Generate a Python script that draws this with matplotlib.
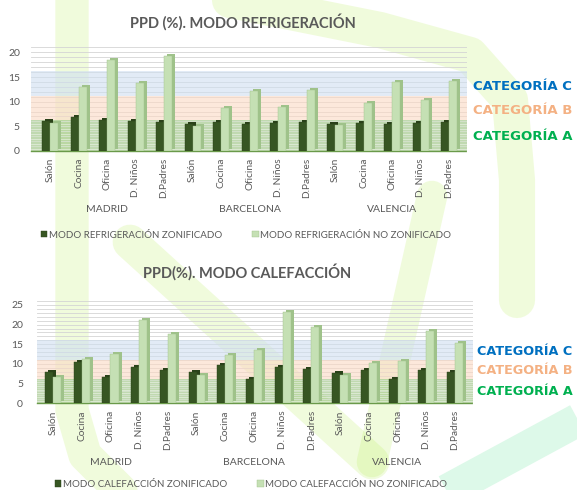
import matplotlib
matplotlib.use('Agg')
import matplotlib.pyplot as plt
import matplotlib.transforms as mtransforms
import numpy as np

# ---------------- data ----------------
cities = ['MADRID', 'BARCELONA', 'VALENCIA']
rooms = ['Salón', 'Cocina', 'Oficina', 'D. Niños', 'D.Padres']
categories = rooms * 3

refr_zon = [6.0, 6.8, 6.3, 6.1, 5.8, 5.4, 5.8, 5.5, 5.6, 5.9, 5.4, 5.6, 5.5, 5.6, 5.9]
refr_nozon = [5.7, 13.0, 18.5, 13.8, 19.3, 5.1, 8.8, 12.2, 9.0, 12.3, 5.2, 9.7, 14.0, 10.3, 14.3]
cal_zon = [7.9, 10.5, 6.6, 9.2, 8.5, 8.0, 9.7, 6.3, 9.3, 8.7, 7.7, 8.5, 6.1, 8.4, 8.0]
cal_nozon = [6.6, 11.3, 12.4, 21.1, 17.7, 7.3, 12.3, 13.6, 23.2, 19.5, 7.1, 10.3, 10.8, 18.4, 15.3]

band_limits = [0, 6.2, 11.1, 16.2]          # categoría A, B, C
band_names = ['CATEGORÍA A', 'CATEGORÍA B', 'CATEGORÍA C']

W, H = 577, 490
fig = plt.figure(figsize=(W / 100, H / 100), dpi=100)
fig.patch.set_facecolor('white')

# ---------------- decorative background (logo strokes) ----------------
bg = fig.add_axes([0, 0, 1, 1], zorder=0)
bg.set_xlim(0, W)
bg.set_ylim(H, 0)
bg.axis('off')
lime = '#b5ee50'
strokes = [
    ([72, 72, 85, 130], [-20, 410, 455, 500], 24),        # left vertical stroke
    ([130, 372], [242, 462], 25),                          # V left arm
    ([432, 372], [196, 462], 22),                          # V right arm
    ([230, 380, 470, 510, 517, 517], [0, 30, 55, 100, 180, 300], 26),  # arch
]
for xs, ys, lw in strokes:
    bg.plot(xs, ys, color=lime, alpha=0.2, lw=lw, solid_capstyle='round',
            solid_joinstyle='round')
bg.plot([430, 600], [500, 408], color='#9eeec0', alpha=0.35, lw=24,
        solid_capstyle='butt')

GREY = '#595959'
DARK, DARK_SIDE = '#375623', '#2a4219'
LIGHT, LIGHT_SIDE = '#c5e0b4', '#9fc28a'


def draw_chart(rect, zon, nozon, ymax, yticks, xlim, ypad, title, title_xy,
               leg_labels, leg_xy, cat_x, cat_ys, cat_size):
    ax = fig.add_axes(rect, zorder=1)
    ax.patch.set_alpha(0)
    x = np.arange(len(categories))
    # gridlines
    for v in range(0, int(ymax) + 1):
        ax.axhline(v, color='#d4d4d4', lw=0.6, zorder=0.5)
    # category bands
    band_cols = ['#96c07c', '#fbd9c3', '#cfdff0']
    for i in range(3):
        ax.axhspan(band_limits[i], band_limits[i + 1], color=band_cols[i],
                   alpha=0.6, lw=0, zorder=0.6)
    for v in np.arange(0.5, band_limits[1], 0.5):
        ax.axhline(v, color='white', lw=0.5, alpha=0.6, zorder=0.7)

    w, off = 0.28, 0.14
    shift = mtransforms.ScaledTranslation(3 / 100, 2 / 100, fig.dpi_scale_trans)
    back_t = ax.transData + shift
    handles = []
    for vals, xo, front, side, z in [(zon, -off, DARK, DARK_SIDE, 3),
                                     (nozon, off, LIGHT, LIGHT_SIDE, 4)]:
        bk = ax.bar(x + xo, vals, w, color=side, zorder=z, lw=0)
        for p in bk:
            p.set_transform(back_t)
            p.set_clip_on(False)
        fr = ax.bar(x + xo, vals, w, color=front, zorder=z + 0.1,
                    edgecolor=side, lw=0.3)
        handles.append(fr)

    ax.set_xlim(*xlim)
    ax.set_ylim(0, ymax)
    ax.set_yticks(yticks)
    ax.set_xticks(x)
    ax.set_xticklabels(categories, rotation=90, fontsize=7.3, color=GREY,
                       family='Lato')
    ax.tick_params(axis='x', length=0, pad=5)
    ax.tick_params(axis='y', length=0, pad=ypad, labelsize=7.5, labelcolor=GREY)
    for lab in ax.get_yticklabels():
        lab.set_family('Lato')
    for s in ['left', 'right', 'top']:
        ax.spines[s].set_visible(False)
    ax.spines['bottom'].set_color('#6a9a4a')
    ax.spines['bottom'].set_linestyle((0, (1, 1)))
    ax.spines['bottom'].set_linewidth(1.0)

    tr = mtransforms.blended_transform_factory(ax.transData, ax.transAxes)
    for i, c in enumerate(cities):
        ax.text(i * 5 + 2, -0.565, c, transform=tr, ha='center', va='center',
                fontsize=7.5, color=GREY, family='Lato')

    fig.text(title_xy[0] / W, 1 - title_xy[1] / H, title, ha='center',
             va='center', fontsize=10.5, fontweight='bold', color=GREY,
             family='Lato')
    fig.legend(handles=handles, labels=leg_labels, loc='center',
               bbox_to_anchor=(leg_xy[0] / W, 1 - leg_xy[1] / H), ncol=2,
               frameon=False, handlelength=0.7, handleheight=0.7,
               handletextpad=0.2, columnspacing=3.0, labelcolor=GREY,
               prop={'family': 'Lato', 'size': 7})
    cat_cols = ['#00b050', '#f4b183', '#0070c0']
    for name, col, yy in zip(band_names, cat_cols, cat_ys):
        fig.text(cat_x / W, 1 - yy / H, name, color=col, fontsize=cat_size,
                 fontweight='bold', ha='left', va='center', family='DejaVu Sans')
    return ax


draw_chart([31 / W, 1 - 151 / H, 436 / W, 104 / H], refr_zon, refr_nozon,
           21.1, [0, 5, 10, 15, 20], (-0.67, 14.63), 8,
           'PPD (%). MODO REFRIGERACIÓN', (243, 22),
           ['MODO REFRIGERACIÓN ZONIFICADO', 'MODO REFRIGERACIÓN NO ZONIFICADO'],
           (246, 235), 473, [137, 110, 86], 9.5)

draw_chart([37 / W, 1 - 403.3 / H, 436 / W, 104.3 / H], cal_zon, cal_nozon,
           26.5, [0, 5, 10, 15, 20, 25], (-0.56, 14.63), 10,
           'PPD(%). MODO CALEFACCIÓN', (247, 272),
           ['MODO CALEFACCIÓN ZONIFICADO', 'MODO CALEFACCIÓN NO ZONIFICADO'],
           (251, 484), 477, [391, 371, 351], 9.2)

fig.savefig('out.png', dpi=100)
